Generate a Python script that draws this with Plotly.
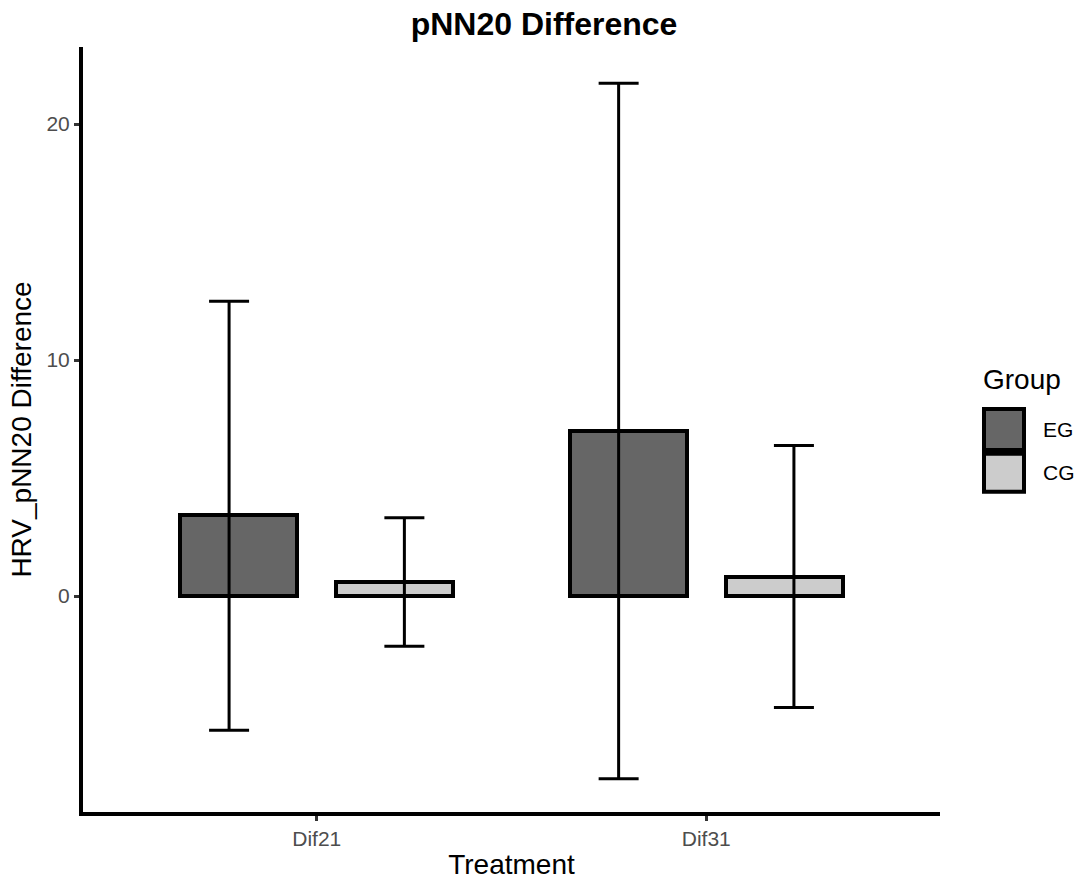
import plotly.graph_objects as go

# ---- data ----
treatments = ["Dif21", "Dif31"]
groups = ["EG", "CG"]
eg_mean = [3.43, 6.98]
eg_upper = [12.49, 21.73]
eg_lower = [-5.68, -7.74]
cg_mean = [0.60, 0.83]
cg_upper = [3.32, 6.38]
cg_lower = [-2.12, -4.72]
y_ticks = [0, 10, 20]
group_colors = {"EG": "#666666", "CG": "#CCCCCC"}

# ---- layout geometry ----
W, H = 1082, 888
L, R, T, B = 83, 142, 47, 72
PW, PH = W - L - R, H - T - B
FONT = "Liberation Sans, Arial, sans-serif"


def px_x(px):
    return (px - L) / PW


def px_y(py):
    return (H - B - py) / PH


idx = list(range(1, len(treatments) + 1))
bar_off = {"EG": -0.2, "CG": 0.2}
err_off = {"EG": -0.225, "CG": 0.225}
series = {
    "EG": (eg_mean, eg_upper, eg_lower),
    "CG": (cg_mean, cg_upper, cg_lower),
}

fig = go.Figure()
for g in groups:
    m, up, lo = series[g]
    fig.add_trace(go.Bar(
        x=[i + bar_off[g] for i in idx], y=m, width=0.3, name=g,
        marker=dict(color=group_colors[g], line=dict(color="black", width=4)),
        showlegend=False,
    ))
for g in groups:
    m, up, lo = series[g]
    fig.add_trace(go.Scatter(
        x=[i + err_off[g] for i in idx], y=m, mode="markers",
        marker=dict(size=1, opacity=0), showlegend=False, hoverinfo="skip",
        error_y=dict(type="data", symmetric=False,
                     array=[u - v for u, v in zip(up, m)],
                     arrayminus=[v - l for l, v in zip(lo, m)],
                     color="black", thickness=3, width=20),
    ))

axis_common = dict(
    showline=True, linewidth=4, linecolor="black", showgrid=False, zeroline=False,
    ticks="outside", ticklen=5, tickwidth=2.5, tickcolor="#333333",
    tickfont=dict(family=FONT, size=21, color="#4d4d4d"),
)

fig.update_xaxes(range=[0.4, 2.6], tickvals=idx, ticktext=treatments,
                 title=dict(text="Treatment", font=dict(family=FONT, size=28, color="black"), standoff=6),
                 **axis_common)
fig.update_yaxes(range=[-(H - B - 599) / 23.73, (599 - T) / 23.73], tickvals=y_ticks,
                 title=dict(text="HRV_pNN20 Difference", font=dict(family=FONT, size=28, color="black"), standoff=8),
                 **axis_common)

# custom legend
shapes = []
annotations = []
key_x0, key_x1 = 984, 1024
key_rows = [(411, 452), (456, 494)]
for g, (y0, y1) in zip(groups, key_rows):
    shapes.append(dict(type="rect", xref="paper", yref="paper",
                       x0=px_x(key_x0), x1=px_x(key_x1), y0=px_y(y1), y1=px_y(y0),
                       fillcolor=group_colors[g], line=dict(color="black", width=4)))
    annotations.append(dict(xref="paper", yref="paper", x=px_x(1041), y=px_y((y0 + y1) / 2),
                            xanchor="left", yanchor="middle", showarrow=False, text=g,
                            font=dict(family=FONT, size=21, color="black")))
annotations.append(dict(xref="paper", yref="paper", x=px_x(981), y=px_y(381),
                        xanchor="left", yanchor="middle", showarrow=False, text="Group",
                        font=dict(family=FONT, size=28, color="black")))

fig.update_layout(
    width=W, height=H,
    margin=dict(l=L, r=R, t=T, b=B),
    paper_bgcolor="white", plot_bgcolor="white",
    title=dict(text="<b>pNN20 Difference</b>", x=544 / W, xref="container", xanchor="center",
               y=1 - 24 / H, yref="container", yanchor="middle",
               font=dict(family=FONT, size=32, color="black")),
    shapes=shapes, annotations=annotations,
    bargap=0, showlegend=False,
)

fig.write_html("out.html")
